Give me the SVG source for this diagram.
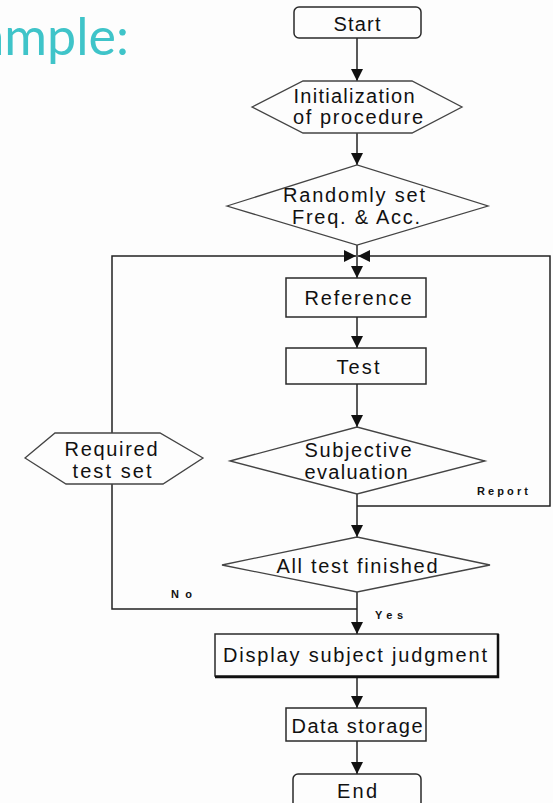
<svg xmlns="http://www.w3.org/2000/svg" width="553" height="803" viewBox="0 0 553 803">
<style>
.shape{fill:none;stroke:#2a2a2a;stroke-width:1.5}
.soft{fill:none;stroke:#444;stroke-width:1.3}
.lbl{font-family:"Liberation Sans",Arial,sans-serif;font-size:20px;fill:#111;text-anchor:middle}
.small{font-family:"Liberation Sans",Arial,sans-serif;font-size:11px;font-weight:bold;fill:#111}
.wire{fill:none;stroke:#222;stroke-width:1.5}
</style>
<defs>
<marker id="ah" markerUnits="userSpaceOnUse" markerWidth="12" markerHeight="12" viewBox="0 0 10 10" refX="10" refY="5" orient="auto">
<path d="M0,0 L10,5 L0,10 Z" fill="#111"/>
</marker>
</defs>
<rect x="0" y="0" width="553" height="803" fill="#fdfdfd"/>
<text x="129" y="55" text-anchor="end" font-family="Lato,'Noto Sans',sans-serif" font-size="52" font-weight="400" fill="#3fc4c9">ample:</text>

<g id="connectors">
<line class="wire" x1="357" y1="38" x2="357" y2="81" marker-end="url(#ah)"/>
<line class="wire" x1="357" y1="133" x2="357" y2="165" marker-end="url(#ah)"/>
<line class="wire" x1="357" y1="245" x2="357" y2="278" marker-end="url(#ah)"/>
<line class="wire" x1="357" y1="317" x2="357" y2="348" marker-end="url(#ah)"/>
<line class="wire" x1="357" y1="384" x2="357" y2="427" marker-end="url(#ah)"/>
<line class="wire" x1="357" y1="494" x2="357" y2="537" marker-end="url(#ah)"/>
<line class="wire" x1="357" y1="592" x2="357" y2="634" marker-end="url(#ah)"/>
<line class="wire" x1="357" y1="676" x2="357" y2="708" marker-end="url(#ah)"/>
<line class="wire" x1="357" y1="741" x2="357" y2="774" marker-end="url(#ah)"/>
<path class="wire" d="M357,506 H550 V256 H358" marker-end="url(#ah)"/>
<path class="wire" d="M357,609 H112 V484"/>
<path class="wire" d="M112,433 V256 H356" marker-end="url(#ah)"/>
<text class="small" x="477" y="495" textLength="51" lengthAdjust="spacing">Report</text>
<text class="small" x="171" y="598" textLength="21" lengthAdjust="spacing">No</text>
<text class="small" x="375" y="619" textLength="28" lengthAdjust="spacing">Yes</text>
</g>

<g id="start">
<rect class="shape" x="294" y="7" width="127" height="31" rx="5"/>
<text class="lbl" x="357" y="31" textLength="47" lengthAdjust="spacing">Start</text>
</g>
<g id="init">
<polygon class="soft" points="252,107 303,81 412,81 462,107 412,133 303,133"/>
<text class="lbl" x="354" y="103" textLength="121" lengthAdjust="spacing">Initialization</text>
<text class="lbl" x="358" y="124" textLength="130" lengthAdjust="spacing">of procedure</text>
</g>
<g id="random">
<polygon class="soft" points="227,206 357,165 488,206 357,245"/>
<text class="lbl" x="354" y="202" textLength="142" lengthAdjust="spacing">Randomly set</text>
<text class="lbl" x="356" y="224" textLength="128" lengthAdjust="spacing">Freq. &amp; Acc.</text>
</g>
<g id="reference">
<rect class="shape" x="286" y="278" width="140" height="39"/>
<text class="lbl" x="358" y="305" textLength="107" lengthAdjust="spacing">Reference</text>
</g>
<g id="test">
<rect class="shape" x="286" y="348" width="140" height="36"/>
<text class="lbl" x="358" y="374" textLength="43" lengthAdjust="spacing">Test</text>
</g>
<g id="subjective">
<polygon class="soft" points="230,461 357,427 485,461 357,494"/>
<text class="lbl" x="358" y="457" textLength="107" lengthAdjust="spacing">Subjective</text>
<text class="lbl" x="356" y="479" textLength="103" lengthAdjust="spacing">evaluation</text>
</g>
<g id="required">
<polygon class="soft" points="25,458 55,433 160,433 203,458 163,484 66,484"/>
<text class="lbl" x="111" y="456" textLength="93" lengthAdjust="spacing">Required</text>
<text class="lbl" x="112" y="478" textLength="79" lengthAdjust="spacing">test set</text>
</g>
<g id="alltest">
<polygon class="soft" points="222,565 357,537 490,565 357,592"/>
<text class="lbl" x="357" y="573" textLength="161" lengthAdjust="spacing">All test finished</text>
</g>
<g id="display">
<rect class="shape" x="215" y="634" width="283" height="42"/>
<path d="M498,634 V677 H215" fill="none" stroke="#111" stroke-width="2.5"/>
<text class="lbl" x="355" y="662" textLength="264" lengthAdjust="spacing">Display subject judgment</text>
</g>
<g id="storage">
<rect class="shape" x="286" y="708" width="140" height="33"/>
<text class="lbl" x="357" y="733" textLength="131" lengthAdjust="spacing">Data storage</text>
</g>
<g id="end">
<rect class="shape" x="293" y="774" width="128" height="40" rx="5"/>
<text class="lbl" x="357" y="798" textLength="40" lengthAdjust="spacing">End</text>
</g>
</svg>
